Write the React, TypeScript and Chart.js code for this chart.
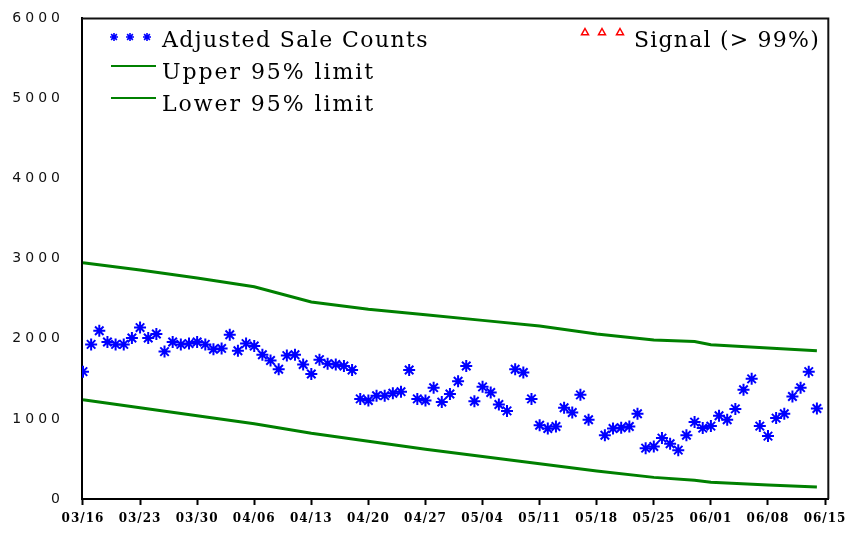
import { useEffect, useRef } from "react";
import { Chart, registerables } from "chart.js";

Chart.register(...registerables);

// Weekly tick labels (day 0 = 03/16)
const tickLabels = ["03/16", "03/23", "03/30", "04/06", "04/13", "04/20", "04/27", "05/04", "05/11", "05/18", "05/25", "06/01", "06/08", "06/15"];

// Daily adjusted sale counts, day 0 .. 90 (null = no value)
const saleCounts: (number | null)[] = [
  1590, 1930, 2100, 1960, 1930, 1930, 2010, 2140, 2010, 2060,
  1840, 1960, 1930, 1940, 1960, 1930, 1870, 1880, 2050, 1850,
  1940, 1910, 1800, 1730, 1620, 1790, 1800, 1680, 1560, 1740,
  1690, 1680, 1660, 1610, 1250, 1230, 1290, 1290, 1320, 1340,
  1610, 1250, 1230, 1390, 1210, 1310, 1470, 1660, 1220, 1400,
  1330, 1180, 1100, 1620, 1580, 1250, 920, 880, 905, 1140,
  1080, 1300, 990, null, 795, 880, 890, 905, 1065, 635,
  655, 760, 690, 610, 795, 960, 885, 910, 1040, 990,
  1125, 1365, 1500, 910, 785, 1010, 1065, 1280, 1390, 1590,
  1130,
];

// Control limits, read at these days
const limitDays = [0, 7, 14, 21, 28, 35, 42, 49, 56, 63, 70, 75, 77, 84, 90];
const upperLimit = [2950, 2860, 2760, 2650, 2460, 2370, 2300, 2230, 2160, 2060, 1985, 1965, 1925, 1885, 1850];
const lowerLimit = [1240, 1140, 1040, 940, 820, 720, 620, 530, 440, 350, 270, 235, 210, 175, 150];

// Signal points (> 99%) — none in this period
const signalDays: number[] = [];
const signalValues: number[] = [];

const seriesNames = ["Adjusted Sale Counts", "Upper 95% limit", "Lower 95% limit", "Signal (> 99%)"];

const BLUE = "#0000ff";
const GREEN = "#008000";
const RED = "#ff0000";

function drawStar(ctx: CanvasRenderingContext2D, x: number, y: number, r: number) {
  ctx.beginPath();
  ctx.moveTo(x - r, y); ctx.lineTo(x + r, y);
  ctx.moveTo(x, y - r); ctx.lineTo(x, y + r);
  const d = r * 0.72;
  ctx.moveTo(x - d, y - d); ctx.lineTo(x + d, y + d);
  ctx.moveTo(x - d, y + d); ctx.lineTo(x + d, y - d);
  ctx.stroke();
}

function drawTri(ctx: CanvasRenderingContext2D, x: number, y: number, r: number) {
  ctx.beginPath();
  ctx.moveTo(x, y - r);
  ctx.lineTo(x + r, y + r * 0.8);
  ctx.lineTo(x - r, y + r * 0.8);
  ctx.closePath();
  ctx.stroke();
}

function fitText(ctx: CanvasRenderingContext2D, text: string, x: number, y: number, width: number) {
  (ctx as any).letterSpacing = "0px";
  const w = ctx.measureText(text).width;
  const sp = (width - w) / text.length;
  (ctx as any).letterSpacing = sp.toFixed(2) + "px";
  ctx.fillText(text, x, y);
  (ctx as any).letterSpacing = "0px";
}

const framePlugin = {
  id: "frameAndLegend",
  beforeDraw(chart: any) {
    (chart.ctx as any).letterSpacing = "4px";
  },
  afterDatasetsDraw(chart: any) {
    (chart.ctx as any).letterSpacing = "1px";
  },
  afterDraw(chart: any) {
    const { ctx, chartArea } = chart;
    ctx.save();
    (ctx as any).letterSpacing = "0px";
    // frame (top and right)
    ctx.strokeStyle = "#111";
    ctx.lineWidth = 2;
    ctx.beginPath();
    ctx.moveTo(chartArea.left, chartArea.top);
    ctx.lineTo(chartArea.right, chartArea.top);
    ctx.lineTo(chartArea.right, chartArea.bottom);
    ctx.stroke();

    // legend
    ctx.font = '22px "DejaVu Serif"';
    ctx.fillStyle = "#000";
    ctx.textBaseline = "alphabetic";
    ctx.textAlign = "left";

    ctx.strokeStyle = BLUE;
    ctx.lineWidth = 1.6;
    [114, 130, 147].forEach((x) => drawStar(ctx, x, 37, 4));
    fitText(ctx, seriesNames[0], 162, 47, 267);

    ctx.strokeStyle = GREEN;
    ctx.lineWidth = 2;
    ctx.beginPath(); ctx.moveTo(111, 66); ctx.lineTo(156, 66); ctx.stroke();
    fitText(ctx, seriesNames[1], 162, 79, 213);
    ctx.beginPath(); ctx.moveTo(111, 98); ctx.lineTo(156, 98); ctx.stroke();
    fitText(ctx, seriesNames[2], 162, 111, 213);

    ctx.strokeStyle = RED;
    ctx.lineWidth = 1.5;
    [585, 602, 620].forEach((x) => drawTri(ctx, x, 32, 3.5));
    fitText(ctx, seriesNames[3], 634, 47, 186);
    ctx.restore();
  },
};

export default function App() {
  const ref = useRef<HTMLCanvasElement | null>(null);

  useEffect(() => {
    document.body.style.margin = "0";
    const canvas = ref.current;
    if (!canvas) return;

    const saleData = saleCounts
      .map((v, i) => (v === null ? null : { x: i, y: v }))
      .filter((p) => p !== null);
    const upperData = limitDays.map((d, i) => ({ x: d, y: upperLimit[i] }));
    const lowerData = limitDays.map((d, i) => ({ x: d, y: lowerLimit[i] }));
    const signalData = signalDays.map((d, i) => ({ x: d, y: signalValues[i] }));

    const chart = new Chart(canvas, {
      type: "scatter",
      data: {
        datasets: [
          {
            label: seriesNames[1],
            data: upperData,
            showLine: true,
            borderColor: GREEN,
            borderWidth: 3,
            pointRadius: 0,
            fill: false,
          },
          {
            label: seriesNames[2],
            data: lowerData,
            showLine: true,
            borderColor: GREEN,
            borderWidth: 3,
            pointRadius: 0,
            fill: false,
          },
          {
            label: seriesNames[0],
            data: saleData as any,
            showLine: false,
            pointStyle: "star",
            pointRadius: 6,
            borderColor: BLUE,
            backgroundColor: BLUE,
            borderWidth: 2,
          },
          {
            label: seriesNames[3],
            data: signalData,
            showLine: false,
            pointStyle: "triangle",
            pointRadius: 4,
            borderColor: RED,
            backgroundColor: "transparent",
          },
        ],
      },
      options: {
        animation: false,
        responsive: true,
        maintainAspectRatio: false,
        layout: { padding: { left: 0, top: 14, right: 13, bottom: 0 } },
        plugins: {
          legend: { display: false },
          tooltip: { enabled: false },
        },
        scales: {
          x: {
            type: "linear",
            min: -0.12,
            max: 91.4,
            afterBuildTicks: (scale: any) => {
              scale.ticks = tickLabels.map((_, i) => ({ value: i * 7 }));
            },
            afterFit: (scale: any) => {
              scale.height = 34;
            },
            ticks: {
              z: 1,
              autoSkip: false,
              maxRotation: 0,
              minRotation: 0,
              padding: 7,
              color: "#000",
              font: { family: "DejaVu Serif", size: 12, weight: "bold" },
              callback: (v: any) => tickLabels[Math.round(Number(v) / 7)] ?? "",
            },
            grid: {
              display: true,
              drawOnChartArea: false,
              drawTicks: true,
              tickLength: 6,
              tickColor: "#000",
              tickWidth: 2,
            },
            border: { display: true, color: "#000", width: 2 },
          },
          y: {
            min: 0,
            max: 6000,
            afterFit: (scale: any) => {
              scale.width = 82;
            },
            ticks: {
              stepSize: 1000,
              padding: 10,
              color: "#111",
              font: { family: "DejaVu Sans", size: 14 },
              callback: (v: any) => String(v),
            },
            grid: { display: false },
            border: { display: true, color: "#000", width: 2 },
          },
        },
      },
      plugins: [framePlugin],
    });

    return () => chart.destroy();
  }, []);

  return (
    <div style={{ position: "relative", width: 851, height: 533 }}>
      <canvas ref={ref} />
    </div>
  );
}
